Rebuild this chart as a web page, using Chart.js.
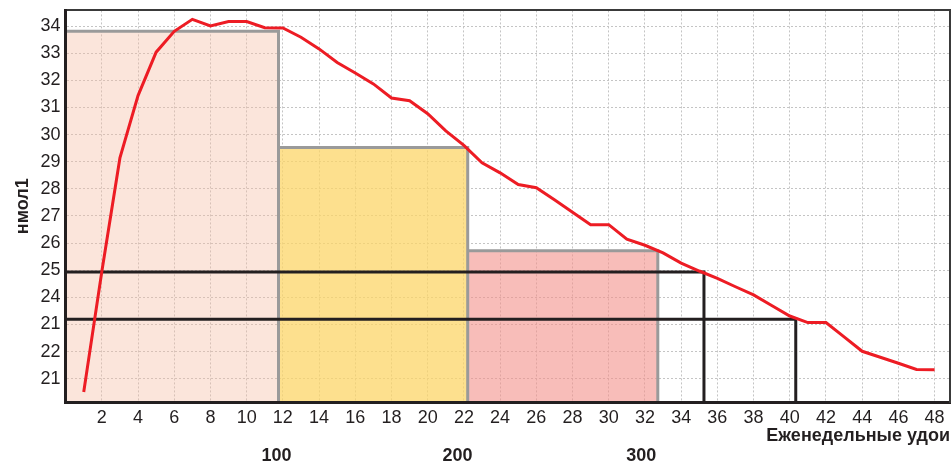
<!DOCTYPE html>
<html>
<head>
<meta charset="utf-8">
<script src="https://cdn.jsdelivr.net/npm/chart.js@4.4.0/dist/chart.umd.min.js"></script>
<style>
  html, body { margin: 0; padding: 0; background: #fff; }
  #wrap { width: 952px; height: 461px; position: relative; }
</style>
</head>
<body>
<div id="wrap"><canvas id="chMilk"></canvas></div>
<script>
// ============ 数据 ============
// 周次（x）与日产奶（y）
const weekX = [1, 2, 3, 4, 5, 6, 7, 8, 9, 10, 11, 12, 13, 14, 15, 16, 17, 18, 19, 20, 21, 22, 23, 24,
  25, 26, 27, 28, 29, 30, 31, 32, 33, 34, 35, 36, 37, 38, 39, 40, 41, 42, 43, 44, 45, 46, 47, 48];
const milkY = [20.51, 24.95, 29.14, 31.44, 33.04, 33.81, 34.25, 34.01, 34.17, 34.17, 33.94, 33.93,
  33.59, 33.16, 32.66, 32.27, 31.87, 31.35, 31.25, 30.77, 30.14, 29.6, 28.96, 28.59,
  28.16, 28.04, 27.6, 27.14, 26.68, 26.68, 26.14, 25.92, 25.64, 25.26, 24.97, 24.7,
  24.39, 24.09, 23.7, 23.31, 23.07, 23.07, 22.54, 22.01, 21.79, 21.57, 21.34, 21.33];

// 三个阶段（彩色矩形）：起止周 + 高度
const phaseStart = [0, 11.76, 22.21];
const phaseEnd = [11.76, 22.21, 32.71];
const phaseTop = [33.81, 29.52, 25.72];
const phaseFill = ['rgba(246,190,165,0.4)', 'rgba(252,214,104,0.75)', 'rgba(243,145,138,0.6)'];

// 两条黑色框线：水平值 + 结束周
const boxLevel = [24.93, 23.19];
const boxEnd = [35.26, 40.33];

// 刻度
const xTickValues = [2, 4, 6, 8, 10, 12, 14, 16, 18, 20, 22, 24, 26, 28, 30, 32, 34, 36, 38, 40, 42, 44, 46, 48];
const yTickValues = [21, 22, 23, 24, 25, 26, 27, 28, 29, 30, 31, 32, 33, 34];
const yTickLabels = ['21', '22', '21', '24', '25', '26', '27', '28', '29', '30', '31', '32', '33', '34'];
const x2TickValues = [11.65, 21.65, 31.8];
const x2TickLabels = ['100', '200', '300'];

const X_MIN = 0, X_MAX = 48.85, Y_MIN = 20.14, Y_MAX = 34.58;
const FONT = '"Liberation Sans", Arial, sans-serif';
const INK = '#231f20';

// ============ datasets ============
const datasets = [];

// 泌乳曲线
datasets.push({
  data: weekX.map((x, i) => ({ x, y: milkY[i] })),
  borderColor: '#ed1c24', borderWidth: 3, pointRadius: 0, tension: 0, fill: false, order: 0
});

// 黑色框线
boxLevel.forEach((lv, i) => {
  datasets.push({
    data: [{ x: X_MIN, y: lv }, { x: boxEnd[i], y: lv }, { x: boxEnd[i], y: Y_MIN }],
    borderColor: INK, borderWidth: 3, pointRadius: 0, fill: false, order: 1
  });
});

// 阶段矩形
phaseTop.forEach((top, i) => {
  datasets.push({
    data: [{ x: phaseStart[i], y: top }, { x: phaseEnd[i], y: top }, { x: phaseEnd[i], y: Y_MIN }],
    borderColor: '#9a9a9a', borderWidth: 3, pointRadius: 0,
    backgroundColor: phaseFill[i], fill: 'start', order: 2
  });
});

const gridOpts = { color: '#c4c4c4', lineWidth: 1, drawTicks: false };

new Chart(document.getElementById('chMilk'), {
  type: 'line',
  data: { datasets },
  options: {
    responsive: true, maintainAspectRatio: false, animation: false,
    layout: { padding: { top: 0, right: -6, left: 0, bottom: 0 } },
    plugins: { legend: { display: false }, tooltip: { enabled: false } },
    scales: {
      x: {
        type: 'linear', position: 'bottom', min: X_MIN, max: X_MAX,
        afterBuildTicks: s => { s.ticks = xTickValues.map(v => ({ value: v })); },
        ticks: { autoSkip: false, maxRotation: 0, padding: 7, color: INK,
          font: { family: FONT, size: 18, lineHeight: 1 } },
        grid: gridOpts,
        border: { color: INK, width: 3, dash: [2, 2], z: 1 },
        title: { display: true, text: 'Еженедельные удои', align: 'end', color: INK,
          font: { family: FONT, size: 18, weight: 'bold', lineHeight: 1 }, padding: { top: -7, bottom: 16 } }
      },
      // 第二行刻度（100 / 200 / 300），贴在 x 轴下方
      x2: {
        type: 'linear', position: { y: Y_MIN }, min: X_MIN, max: X_MAX,
        afterBuildTicks: s => { s.ticks = x2TickValues.map(v => ({ value: v })); },
        ticks: { autoSkip: false, maxRotation: 0, padding: 37, color: INK,
          font: { family: FONT, size: 18, weight: 'bold', lineHeight: 1 },
          callback: v => x2TickLabels[x2TickValues.indexOf(v)] },
        grid: { display: false }, border: { display: false }
      },
      xTop: {
        type: 'linear', position: 'top', min: X_MIN, max: X_MAX,
        ticks: { display: false }, grid: { display: false },
        border: { color: '#3a3a3a', width: 2, z: 1 }
      },
      y: {
        type: 'linear', position: 'left', min: Y_MIN, max: Y_MAX,
        afterBuildTicks: s => { s.ticks = yTickValues.map(v => ({ value: v })); },
        ticks: { padding: 5, color: INK, font: { family: FONT, size: 18, lineHeight: 0.6 },
          callback: v => yTickLabels[yTickValues.indexOf(v)] },
        grid: gridOpts,
        border: { color: INK, width: 3, dash: [2, 2], z: 1 },
        title: { display: true, text: 'нмол1', color: INK,
          font: { family: FONT, size: 18, weight: 'bold' }, padding: { top: 12, bottom: 2 } }
      },
      yRight: {
        type: 'linear', position: 'right', min: Y_MIN, max: Y_MAX,
        ticks: { display: false }, grid: { display: false },
        border: { color: '#3a3a3a', width: 2, z: 1 }
      }
    }
  }
});
</script>
</body>
</html>
